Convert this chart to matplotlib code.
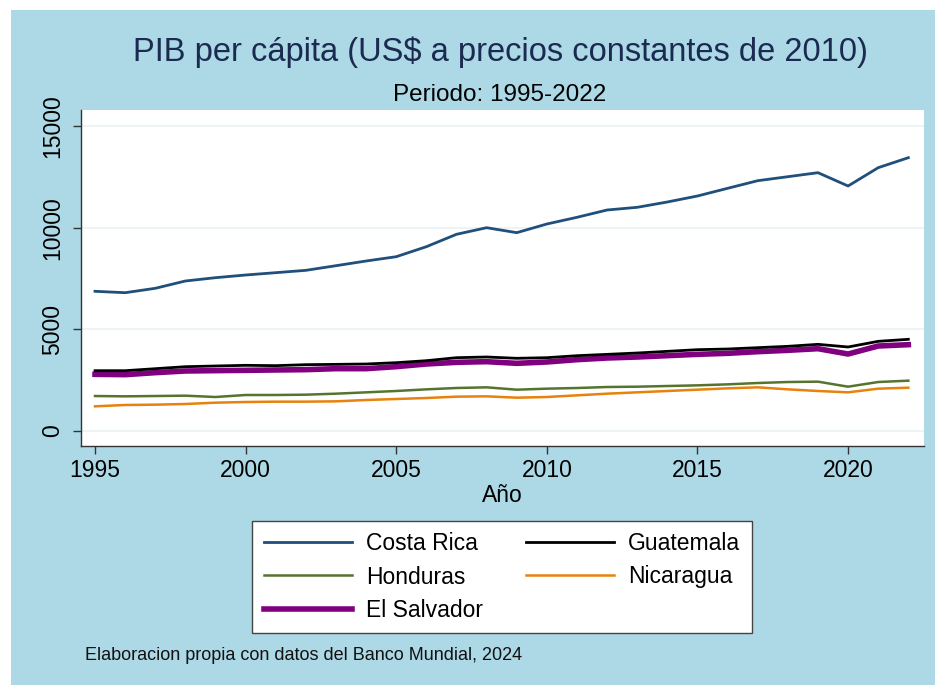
import matplotlib
matplotlib.use("Agg")
import matplotlib.pyplot as plt
from matplotlib.patches import Rectangle

plt.rcParams['font.family'] = ['Liberation Sans', 'DejaVu Sans']

# Data
years = list(range(1995, 2023))
costa_rica = [6875, 6806, 7022, 7382, 7545, 7677, 7791, 7907, 8135, 8366,
              8578, 9070, 9680, 10005, 9760, 10187, 10516, 10876, 11008, 11270,
              11565, 11943, 12318, 12515, 12712, 12057, 12958, 13450]
guatemala = [2968, 2968, 3066, 3165, 3199, 3232, 3216, 3264, 3280, 3297,
             3362, 3460, 3608, 3642, 3578, 3608, 3706, 3772, 3838, 3920,
             4002, 4035, 4101, 4167, 4265, 4134, 4413, 4512]
honduras = [1722, 1706, 1722, 1739, 1673, 1772, 1772, 1788, 1837, 1903,
            1969, 2050, 2116, 2149, 2034, 2083, 2116, 2165, 2181, 2214,
            2247, 2296, 2362, 2411, 2428, 2181, 2411, 2477]
nicaragua = [1214, 1280, 1296, 1329, 1394, 1427, 1444, 1444, 1460, 1526,
             1575, 1624, 1690, 1706, 1640, 1673, 1755, 1837, 1903, 1969,
             2034, 2099, 2149, 2050, 1969, 1903, 2083, 2132]
el_salvador = [2789, 2772, 2871, 2953, 2970, 2986, 3003, 3019, 3068, 3068,
               3166, 3297, 3379, 3412, 3330, 3396, 3510, 3592, 3641, 3707,
               3773, 3822, 3904, 3970, 4051, 3789, 4183, 4248]

x_ticks = [1995, 2000, 2005, 2010, 2015, 2020]
y_ticks = [0, 5000, 10000, 15000]

fig = plt.figure(figsize=(9.35, 6.85), dpi=100)
fig.patch.set_facecolor('white')

# light blue background (white strip at top and left like the reference)
bg = Rectangle((11 / 935, 0), 1 - 11 / 935, 1 - 10 / 685, transform=fig.transFigure,
               facecolor='#add8e6', edgecolor='none', zorder=-10)
fig.patches.append(bg)

ax = fig.add_axes([81 / 935, 1 - 446 / 685, (924 - 81) / 935, (446 - 110) / 685])
ax.set_facecolor('white')

# Plot the series
l_cr, = ax.plot(years, costa_rica, color='#1f4f7a', lw=2.0, label='Costa Rica')
l_gt, = ax.plot(years, guatemala, color='black', lw=2.0, label='Guatemala')
l_hn, = ax.plot(years, honduras, color='#55752f', lw=1.8, label='Honduras')
l_ni, = ax.plot(years, nicaragua, color='#e8820c', lw=1.8, label='Nicaragua')
l_sv, = ax.plot(years, el_salvador, color='#800080', lw=4.0, label='El Salvador')
l_gt.set_zorder(3)

ax.set_xlim(1994.535, 2022.52)
ax.set_ylim(-738, 15797)
ax.set_xticks(x_ticks)
ax.set_yticks(y_ticks)
ax.set_yticklabels([str(v) for v in y_ticks], rotation=90, va='center')
ax.tick_params(axis='both', labelsize=16.5, direction='out', length=6, width=1.0,
               color='#333333')
ax.tick_params(axis='y', pad=6)
ax.grid(axis='y', color='#eaf2f3', lw=1.2)
ax.set_axisbelow(True)

for side in ['top', 'right']:
    ax.spines[side].set_visible(False)
for side in ['left', 'bottom']:
    ax.spines[side].set_color('#333333')
    ax.spines[side].set_linewidth(1.0)

ax.set_xlabel('Año', fontsize=16.5, labelpad=1)

# Titles
fig.text(500 / 935, 1 - 52 / 685, 'PIB per cápita (US$ a precios constantes de 2010)',
         ha='center', va='center', fontsize=23.5, color='#1a2a50')
fig.text(500 / 935, 1 - 95 / 685, 'Periodo: 1995-2022',
         ha='center', va='center', fontsize=17.5, color='black')

# Legend (column-wise ordering to get the reference rows)
handles = [l_cr, l_hn, l_sv, l_gt, l_ni]
leg = fig.legend(handles, [h.get_label() for h in handles], ncol=2,
                 loc='center', bbox_to_anchor=(502 / 935, 1 - 577 / 685),
                 fontsize=16.5, frameon=True, fancybox=False, handlelength=3.85,
                 handletextpad=0.6, columnspacing=1.9, labelspacing=0.45,
                 borderpad=0.5, framealpha=1.0, facecolor='white')
leg.get_frame().set_edgecolor('#444444')
leg.get_frame().set_linewidth(1.0)

fig.text(85 / 935, 1 - 655 / 685, 'Elaboracion propia con datos del Banco Mundial, 2024',
         ha='left', va='center', fontsize=13, color='#111111')

fig.savefig('out.png', dpi=100)
